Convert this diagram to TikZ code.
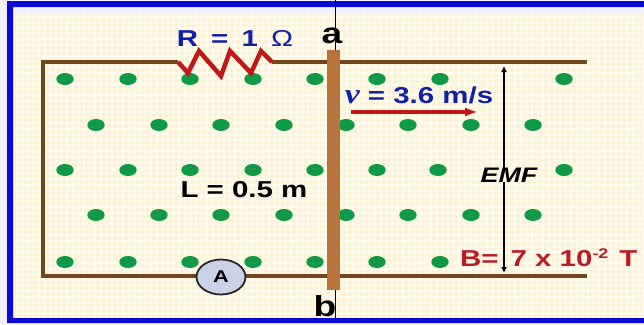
\documentclass[tikz,border=0pt]{standalone}
\usepackage{xcolor}
\usepackage{fontspec}
\setmainfont{Liberation Sans}[FakeStretch=1.28]
\newfontfamily\velfont{Liberation Serif}[FakeStretch=1.2]
\usetikzlibrary{arrows.meta}
\usetikzlibrary{shapes.geometric}
\definecolor{framecol}{HTML}{0A0AD2}
\definecolor{papercol}{HTML}{FCF3D8}
\definecolor{gridcol}{HTML}{FFFBEF}
\definecolor{wirecol}{HTML}{74461F}
\definecolor{rodcol}{HTML}{B8743C}
\definecolor{dotcol}{HTML}{109A48}
\definecolor{zigcol}{HTML}{C01818}
\definecolor{labblue}{HTML}{1020A8}
\definecolor{labred}{HTML}{B81C28}
\definecolor{metercol}{HTML}{CCD2E6}
\tikzset{
	wire/.style={wirecol,line width=4.5pt},
	lab/.style={font=\bfseries\fontsize{23}{23}\selectfont,inner sep=0pt},
	endlab/.style={font=\bfseries\fontsize{29}{29}\selectfont,inner sep=0pt},
	fielddot/.style={dotcol,x radius=8.7pt,y radius=6pt},
}

\begin{document}
\begin{tikzpicture}[x=1pt,y=-1pt]
		\useasboundingbox (0,0) rectangle (644,324);
		\fill [white!95!blue] (0,0) rectangle (644,324);
		\fill [papercol] (14,13) rectangle (644,318);
		\begin{scope}
			\clip (14,13) rectangle (644,318);
			\draw [gridcol,line width=1.6pt,step=5.6pt] (0pt,-324pt) grid (644pt,0pt);
		\end{scope}
		\fill [framecol] (7,1) rectangle (644,7)
			  (7,1) rectangle (13,323)
			  (7,318) rectangle (644,323);
		% field dots
		\fill [fielddot]
			  (65,79) circle[] (128,79) circle[] (190,79) circle[] (253,79) circle[]
			  (315,79) circle[] (377,79) circle[] (440,79) circle[] (564,79) circle[]
			  (96,125) circle[] (159,125) circle[] (221,125) circle[] (284,125) circle[]
			  (346,125) circle[] (408,125) circle[] (471,125) circle[] (533,125) circle[]
			  (65,170) circle[] (128,170) circle[] (190,170) circle[] (253,170) circle[]
			  (315,170) circle[] (377,170) circle[] (438,170) circle[] (564,170) circle[]
			  (96,215) circle[] (159,215) circle[] (221,215) circle[] (284,215) circle[]
			  (346,215) circle[] (408,215) circle[] (471,215) circle[] (533,215) circle[]
			  (65,262) circle[] (128,262) circle[] (190,262) circle[] (253,262) circle[]
			  (315,262) circle[] (377,262) circle[] (440,262) circle[];
		% wires
		\coordinate (topend) at (587,62);
		\coordinate (botend) at (587,276);
		\coordinate (lefttop) at (43,62);
		\coordinate (leftbot) at (43,276);
		\coordinate (zigin) at (178,62);
		\coordinate (zigout) at (272,62);
		\coordinate (linetop) at (335,0);
		\coordinate (linebot) at (335,318);
		\draw [wire] (zigin) -- (lefttop) -- (leftbot) -- (botend);
		\draw [wire] (zigout) -- (topend);
		\node [ellipse,draw=black!85,line width=1.8pt,fill=metercol,minimum width=49pt,minimum height=35pt,inner sep=0pt,font=\bfseries\fontsize{17}{17}\selectfont] (meter) at (221,277) {A};
		\draw [black,line width=0.8pt] (linetop) -- (linebot);
		\fill [rodcol] (327,50) rectangle (340,290);
		\draw [zigcol,line width=4.5pt] (zigin) -- (188,73) -- (199,51) -- (221,76) -- (230,51) -- (251,73) -- (261,51) -- (zigout);
		% labels
		\node [lab,labblue] (rlab) at (235,38) {R\hspace{5pt} = \hspace{5pt}1\hspace{5pt} {\mdseries Ω}};
		\node [endlab,black] (alab) at (332,36) {a};
		\node [endlab,black] (blab) at (325,306) {b};
		\node [lab,labblue] (vlab) at (419,95) {{\velfont\itshape\fontsize{28}{28}\selectfont v} = 3.6 m/s};
		\node [lab,black] (llab) at (244,190) {L = 0.5 m};
		\node [lab,black,font=\bfseries\itshape\fontsize{21}{21}\selectfont] (emf) at (509,175) {EMF};
		\node [lab,labred,anchor=west] (blabel) at (460,258) {B=\hspace{12pt}7 x 10\raisebox{8pt}{\fontsize{14}{14}\selectfont -2}\hspace{11pt}T};
		% arrows
		\coordinate (vfrom) at (351,112);
		\coordinate (vto) at (478,112);
		\coordinate (emftop) at (504,66);
		\coordinate (emfbot) at (504,273);
		\draw [zigcol,line width=3.2pt,-{Latex[length=13pt,width=9pt]}] (vfrom) -- (vto);
		\draw [black,line width=1.2pt,-{Latex[length=6pt,width=6pt]}] (emf.north -| emftop) -- (emftop);
		\draw [black,line width=1.2pt,-{Latex[length=6pt,width=6pt]}] (emf.south -| emftop) -- (emfbot);
	\end{tikzpicture}
\end{document}
